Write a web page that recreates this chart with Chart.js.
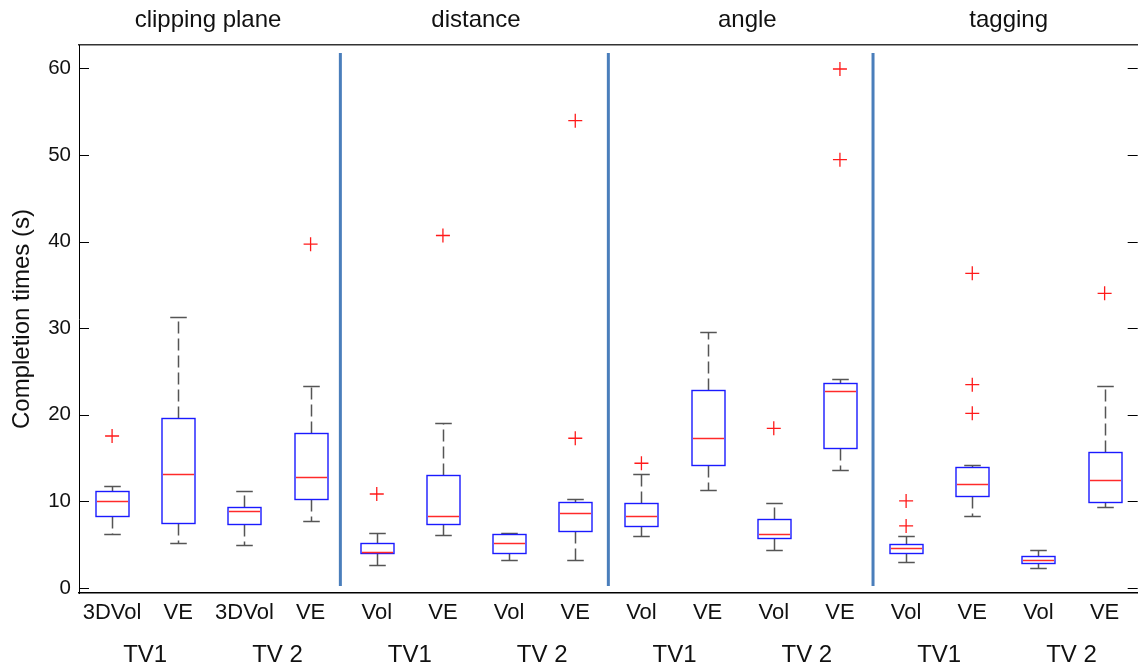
<!DOCTYPE html>
<html>
<head>
<meta charset="utf-8">
<script src="https://cdn.jsdelivr.net/npm/chart.js@4.4.1/dist/chart.umd.min.js"></script>
<style>
  html, body { margin: 0; padding: 0; background: #fff; overflow: hidden; }
  #wrap { width: 1146px; height: 670px; }
</style>
</head>
<body>
<div id="wrap"><canvas id="times"></canvas></div>
<script>
const groups = ["clipping plane", "distance", "angle", "tagging"];
const groupTitleAt = [2.45, 6.5, 10.6, 14.55];
const boxLabels = ["3DVol", "VE", "3DVol", "VE", "Vol", "VE", "Vol", "VE",
                   "Vol", "VE", "Vol", "VE", "Vol", "VE", "Vol", "VE"];
const tvLabels = ["TV1", "TV 2", "TV1", "TV 2", "TV1", "TV 2", "TV1", "TV 2"];

// five-number summaries, one entry per box
const whiskerLow  = [6.2, 5.2, 5.0, 7.74, 2.66, 6.16, 3.23, 3.23, 6.0, 11.28, 4.42, 13.59, 3.04, 8.31, 2.27, 9.32];
const quartile1   = [8.31, 7.54, 7.36, 10.28, 4.0, 7.36, 4.04, 6.55, 7.16, 14.17, 5.8, 16.13, 4.04, 10.66, 2.89, 9.9];
const medians     = [10.08, 13.2, 8.93, 12.8, 4.2, 8.35, 5.23, 8.7, 8.31, 17.28, 6.2, 22.75, 4.58, 12.04, 3.27, 12.44];
const quartile3   = [11.24, 19.6, 9.3, 17.9, 5.2, 13.0, 6.2, 9.9, 9.85, 22.9, 7.93, 23.7, 5.05, 13.97, 3.66, 15.74];
const whiskerHigh = [11.8, 31.33, 11.24, 23.3, 6.35, 19.09, 6.35, 10.28, 13.2, 29.56, 9.85, 24.1, 6.0, 14.17, 4.42, 23.36];

// outliers: box number (1-based) and value
const outlierBox   = [1, 4, 5, 6, 8, 8, 9, 11, 12, 12, 13, 13, 14, 14, 14, 16];
const outlierValue = [17.55, 39.7, 10.85, 40.7, 53.96, 17.29, 14.4, 18.44, 59.93, 49.46, 10.05, 7.16, 36.34, 23.48, 20.17, 34.03];

const yTicks = [0, 10, 20, 30, 40, 50, 60];
const dividers = [4.45, 8.5, 12.5];

const FONT = "'Liberation Sans', Arial, Helvetica, sans-serif";
const INK = "#111";

const positions = boxLabels.map((_, i) => i + 1);
const outliers = outlierBox.map((b, i) => ({ x: b, y: outlierValue[i] }));

const crisp = (v) => Math.round(v) + 0.5;

const boxPlot = {
  id: "boxPlot",
  beforeDatasetsDraw(chart) {
    const { ctx, chartArea, scales } = chart;
    const xs = scales.x;
    const ys = scales.y;

    // group dividers
    ctx.save();
    ctx.strokeStyle = "#4a7ebb";
    ctx.lineWidth = 3;
    dividers.forEach((d) => {
      const px = xs.getPixelForValue(d);
      ctx.beginPath();
      ctx.moveTo(px, chartArea.top + 8);
      ctx.lineTo(px, chartArea.bottom - 7);
      ctx.stroke();
    });
    ctx.restore();

    const unit = xs.getPixelForValue(2) - xs.getPixelForValue(1);
    const halfBox = unit * 0.25;
    const halfCap = unit * 0.125;

    positions.forEach((p, i) => {
      const cx = crisp(xs.getPixelForValue(p));
      const yLo = crisp(ys.getPixelForValue(whiskerLow[i]));
      const yQ1 = crisp(ys.getPixelForValue(quartile1[i]));
      const yMed = crisp(ys.getPixelForValue(medians[i]));
      const yQ3 = crisp(ys.getPixelForValue(quartile3[i]));
      const yHi = crisp(ys.getPixelForValue(whiskerHigh[i]));

      ctx.save();
      // whiskers
      ctx.strokeStyle = "#555";
      ctx.lineWidth = 1.5;
      ctx.setLineDash([12, 5]);
      ctx.beginPath();
      ctx.moveTo(cx, yQ3);
      ctx.lineTo(cx, yHi);
      ctx.moveTo(cx, yQ1);
      ctx.lineTo(cx, yLo);
      ctx.stroke();
      ctx.setLineDash([]);
      ctx.beginPath();
      ctx.moveTo(cx - halfCap, yHi);
      ctx.lineTo(cx + halfCap, yHi);
      ctx.moveTo(cx - halfCap, yLo);
      ctx.lineTo(cx + halfCap, yLo);
      ctx.stroke();

      // box
      ctx.strokeStyle = "#1a1aff";
      ctx.lineWidth = 1.4;
      ctx.strokeRect(Math.round(cx - halfBox), yQ3, Math.round(halfBox * 2), yQ1 - yQ3);

      // median
      ctx.strokeStyle = "#ff2a2a";
      ctx.lineWidth = 1.5;
      ctx.beginPath();
      ctx.moveTo(Math.round(cx - halfBox) + 1, yMed);
      ctx.lineTo(Math.round(cx + halfBox) - 1, yMed);
      ctx.stroke();
      ctx.restore();
    });
  },
  afterDraw(chart) {
    // inward tick marks on both sides
    const { ctx, chartArea, scales } = chart;
    ctx.save();
    ctx.strokeStyle = "#000";
    ctx.lineWidth = 1;
    ctx.beginPath();
    scales.y.ticks.forEach((t) => {
      const py = crisp(scales.y.getPixelForValue(t.value));
      ctx.moveTo(chartArea.left, py);
      ctx.lineTo(chartArea.left + 10, py);
      ctx.moveTo(chartArea.right - 10, py);
      ctx.lineTo(chartArea.right, py);
    });
    ctx.stroke();
    ctx.restore();
  }
};

const hiddenGrid = { display: false, drawTicks: false };

new Chart(document.getElementById("times"), {
  type: "scatter",
  data: {
    datasets: [{
      label: "outliers",
      data: outliers,
      pointStyle: "cross",
      pointRadius: 7,
      pointHoverRadius: 7,
      borderColor: "#ff1a1a",
      borderWidth: 1.3
    }]
  },
  options: {
    responsive: true,
    maintainAspectRatio: false,
    animation: false,
    layout: { padding: { left: 0, top: 0, bottom: 0, right: 2 } },
    plugins: { legend: { display: false }, tooltip: { enabled: false } },
    scales: {
      x: {
        type: "linear", position: "bottom", weight: 0,
        min: 0.5, max: 16.5,
        afterBuildTicks: (s) => { s.ticks = positions.map((v) => ({ value: v })); },
        afterFit: (s) => { s.height = 40; },
        grid: hiddenGrid,
        border: { display: true, color: "#000", width: 1.5 },
        ticks: {
          autoSkip: false, maxRotation: 0, padding: 7, color: INK,
          font: { family: FONT, size: 22 },
          callback: (v, i) => boxLabels[i]
        }
      },
      x2: {
        type: "linear", position: "bottom", weight: 1,
        min: 0.5, max: 16.5,
        afterBuildTicks: (s) => { s.ticks = tvLabels.map((_, i) => ({ value: 2 * i + 1.5 })); },
        afterFit: (s) => { s.height = 37; },
        grid: hiddenGrid,
        border: { display: false },
        ticks: {
          autoSkip: false, maxRotation: 0, padding: 8, color: INK,
          font: { family: FONT, size: 24 },
          callback: (v, i) => tvLabels[i]
        }
      },
      xt: {
        type: "linear", position: "top",
        min: 0.5, max: 16.5,
        afterBuildTicks: (s) => { s.ticks = groupTitleAt.map((v) => ({ value: v })); },
        afterFit: (s) => { s.height = 45; },
        grid: hiddenGrid,
        border: { display: true, color: "#333", width: 1.5 },
        ticks: {
          autoSkip: false, maxRotation: 0, padding: 10, color: INK,
          font: { family: FONT, size: 24 },
          callback: (v, i) => groups[i]
        }
      },
      y: {
        min: -0.58, max: 62.7,
        afterBuildTicks: (s) => { s.ticks = yTicks.map((v) => ({ value: v })); },
        afterFit: (s) => { s.width = 79; },
        grid: hiddenGrid,
        border: { display: true, color: "#000", width: 1 },
        ticks: { padding: 8, color: INK, font: { family: FONT, size: 20.5 } },
        title: {
          display: true, text: "Completion times (s)", color: INK,
          font: { family: FONT, size: 24 },
          padding: { top: 8, bottom: 0 }
        }
      }
    }
  },
  plugins: [boxPlot]
});
</script>
</body>
</html>
